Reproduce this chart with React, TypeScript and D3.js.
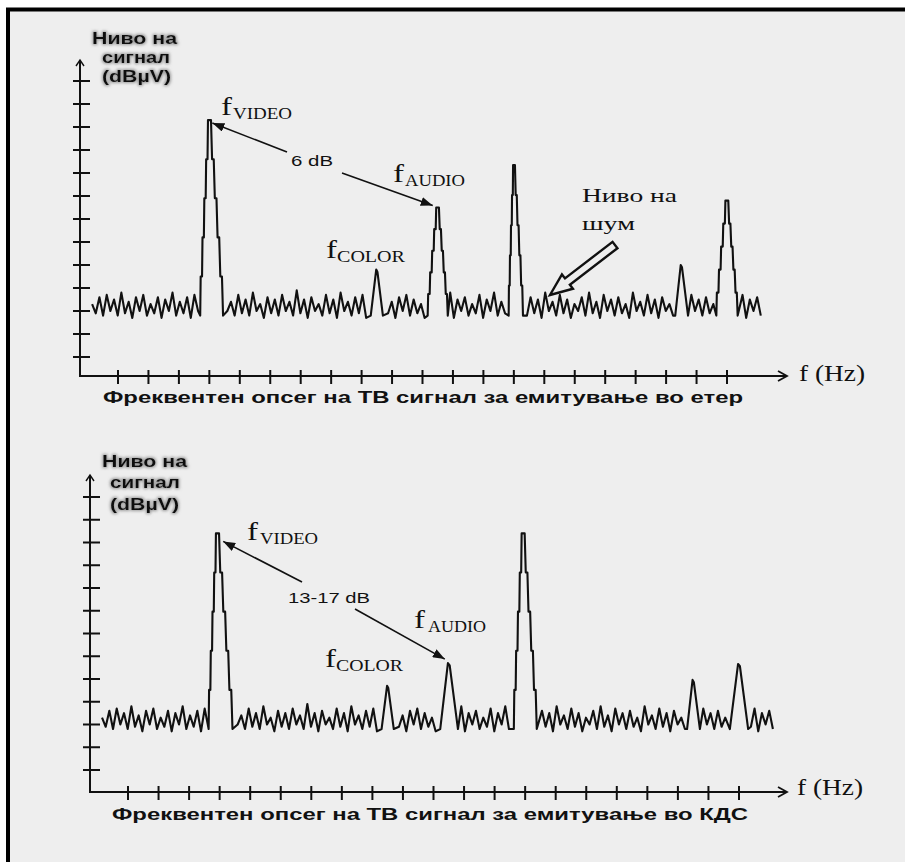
import * as d3 from "d3";

// shared noise floor, sampled every NOISE_STEP tick units
const NOISE_START = -0.85;
const NOISE_STEP = 0.12;
const NOISE = [
  2.3, 1.9, 2.6, 1.8, 2.7, 2.0, 2.5, 1.8, 2.8, 1.9,
  2.4, 1.7, 2.6, 2.0, 2.7, 1.8, 2.3, 1.9, 2.6, 1.7,
  2.5, 2.0, 2.8, 1.8, 2.4, 1.9, 2.6, 1.7, 2.7, 2.0,
  2.3, 1.8, 2.9, 1.9, 2.5, 1.7, 2.6, 2.0, 2.4, 1.8,
  2.7, 1.9, 2.5, 1.8, 2.8, 2.0, 2.3, 1.7, 2.6, 1.9,
  2.5, 1.8, 2.7, 2.0, 2.4, 1.8, 2.9, 1.9, 2.5, 1.7,
  2.6, 2.0, 2.3, 1.8, 2.7, 1.9, 2.5, 1.7, 2.8, 2.0,
  2.4, 1.8, 2.6, 1.9, 2.7, 1.7, 2.5, 2.0, 2.3, 1.8,
  2.8, 1.9, 2.4, 1.7, 2.6, 2.0, 2.7, 1.8, 2.5, 1.9,
  2.3, 1.7, 2.7, 2.0, 2.6, 1.8, 2.4, 1.9, 2.8, 1.7,
  2.5, 2.0, 2.6, 1.8, 2.3, 1.9, 2.7, 1.7, 2.5, 2.0,
  2.8, 1.8, 2.4, 1.9, 2.6, 1.7, 2.7, 2.0, 2.3, 1.8,
  2.6, 1.9, 2.5, 1.7, 2.8, 2.0, 2.4, 1.8, 2.7, 1.9,
  2.5, 1.7, 2.3, 2.0, 2.6, 1.8, 2.8, 1.9, 2.4, 1.7,
  2.7, 2.0, 2.5, 1.8, 2.6, 1.9, 2.3, 1.7, 2.8, 2.0,
  2.4, 1.8, 2.7, 1.9, 2.5, 1.7, 2.6, 2.0, 2.3, 1.8,
  2.8, 1.9, 2.4, 1.7, 2.7, 2.0, 2.5, 1.8, 2.6, 1.9,
  2.3, 1.7, 2.6, 2.0, 2.8, 1.8, 2.4, 1.9, 2.7, 1.7,
  2.5, 2.0, 2.6, 1.8,
];
const PEAK_BASE = 1.8;

// over-the-air spectrum: video, color, audio, next video, ..., ...
const AIR_FREQ = [3, 8.5, 10.5, 13, 18.5, 20];
const AIR_LEVEL = [10.3, 3.8, 6.5, 8.35, 4.0, 6.8];
const AIR_LEFT = [0.3, 0.2, 0.33, 0.17, 0.2, 0.35];
const AIR_RIGHT = [0.45, 0.2, 0.33, 0.3, 0.22, 0.35];

// cable (КДС) spectrum
const CATV_FREQ = [2.92, 8.5, 10.5, 12.93, 18.5, 20];
const CATV_LEVEL = [10.4, 3.7, 4.7, 10.4, 3.96, 4.66];
const CATV_LEFT = [0.28, 0.2, 0.28, 0.3, 0.2, 0.3];
const CATV_RIGHT = [0.5, 0.2, 0.3, 0.45, 0.22, 0.3];

const X_TICKS = d3.range(0, 21);
const Y_TICKS = d3.range(0, 13);

const Y_LABEL = ["Ниво на", "сигнал", "(dBµV)"];
const AIR_CAPTION = "Фреквентен опсег на ТВ сигнал за емитување во етер";
const CATV_CAPTION = "Фреквентен опсег на ТВ сигнал за емитување во КДС";
const AIR_DIFF = "6 dB";
const CATV_DIFF = "13-17 dB";

const SANS = "'Liberation Sans', Arial, sans-serif";
const SERIF = "'Liberation Serif', 'Times New Roman', serif";

type Pt = [number, number];

// stair-stepped triangle for tall carriers, plain triangle for small ones
const peakPoints = (c: number, h: number, l: number, r: number): Pt[] => {
  if (h - PEAK_BASE < 3) {
    return [
      [c - l, PEAK_BASE],
      [c - l * 0.1, h],
      [c + r * 0.1, h - 0.1],
      [c + r, PEAK_BASE],
    ];
  }
  const n = 5;
  const yk = (k: number) => PEAK_BASE + ((h - PEAK_BASE) * k) / n;
  const pts: Pt[] = [[c - l, PEAK_BASE]];
  for (let k = 1; k <= n; k++) {
    pts.push([c - l + (l * (k - 0.75)) / n, yk(k)]);
    pts.push([c - l + (l * k) / n, yk(k)]);
  }
  for (let j = 1; j <= n; j++) {
    pts.push([c + (r * (j - 1 + 0.6)) / n, yk(n - j + 1)]);
    pts.push([c + (r * j) / n, yk(n - j)]);
  }
  return pts;
};

const T = ({ x, y, len, size, family, weight, children, filter }: any) => (
  <text
    x={x}
    y={y}
    fontSize={size}
    fontFamily={family}
    fontWeight={weight || "normal"}
    textLength={len}
    lengthAdjust="spacingAndGlyphs"
    fill="#111"
    filter={filter}
  >
    {children}
  </text>
);

const SubLabel = ({ x, y, sub, subX, subLen }: any) => (
  <g>
    <T x={x} y={y} len={11} size={26} family={SERIF}>
      f
    </T>
    <T x={subX} y={y + 4} len={subLen} size={16} family={SERIF}>
      {sub}
    </T>
  </g>
);

type Layout = {
  x0: number;
  xEnd: number;
  yAxis: number;
  yTop: number;
  xRange: [number, number];
  yRange: [number, number];
  yLabel: [number, number, number][];
  video: [number, number, number, number];
  audio: [number, number, number, number];
  color: [number, number, number, number];
  diff: [number, number, number];
  tail1: Pt;
  tipOff1: Pt;
  tail2: Pt;
  tipOff2: Pt;
  hz: [number, number];
  caption: [number, number, number];
};

const AIR_LAYOUT: Layout = {
  x0: 80,
  xEnd: 787,
  yAxis: 376,
  yTop: 60,
  xRange: [118, 727],
  yRange: [357, 81],
  yLabel: [
    [92, 44, 85],
    [102, 63, 68],
    [102, 82, 69],
  ],
  video: [221, 115, 233, 59],
  audio: [393, 182, 405, 60],
  color: [326, 258, 337, 68],
  diff: [291, 166, 42],
  tail1: [287, 152],
  tipOff1: [3, 3],
  tail2: [342, 173],
  tipOff2: [-5, -2],
  hz: [799, 381],
  caption: [103, 403, 640],
};

const CATV_LAYOUT: Layout = {
  x0: 90,
  xEnd: 787,
  yAxis: 792,
  yTop: 475,
  xRange: [128, 739],
  yRange: [770, 497],
  yLabel: [
    [102, 467, 85],
    [110, 488, 70],
    [110, 510, 69],
  ],
  video: [247, 540, 260, 58],
  audio: [414, 628, 428, 58],
  color: [325, 667, 336, 67],
  diff: [288, 603, 82],
  tail1: [302, 582],
  tipOff1: [6, 8],
  tail2: [355, 609],
  tipOff2: [-4, -4],
  hz: [797, 795],
  caption: [112, 820, 636],
};

const Panel = ({
  lay,
  freq,
  level,
  left,
  right,
  diff,
  caption,
}: {
  lay: Layout;
  freq: number[];
  level: number[];
  left: number[];
  right: number[];
  diff: string;
  caption: string;
}) => {
  const xs = d3.scaleLinear().domain([0, 20]).range(lay.xRange);
  const ys = d3.scaleLinear().domain([0, 12]).range(lay.yRange);

  // build the trace: noise floor with the peaks spliced in
  const pts: Pt[] = [];
  const done = new Set<number>();
  NOISE.forEach((v, i) => {
    const x = NOISE_START + i * NOISE_STEP;
    const p = freq.findIndex(
      (c, k) => x >= c - left[k] - 0.06 && x <= c + right[k] + 0.06
    );
    if (p >= 0) {
      if (!done.has(p)) {
        done.add(p);
        pts.push(...peakPoints(freq[p], level[p], left[p], right[p]));
      }
      return;
    }
    pts.push([x, v]);
  });
  const line = d3
    .line<Pt>()
    .x((d) => xs(d[0]))
    .y((d) => ys(d[1]));

  const tip1: Pt = [xs(freq[0]) + lay.tipOff1[0], ys(level[0]) + lay.tipOff1[1]];
  const tip2: Pt = [xs(freq[2]) + lay.tipOff2[0], ys(level[2]) + lay.tipOff2[1]];

  return (
    <g>
      {/* axes */}
      <path
        d={`M${lay.x0},${lay.yTop} V${lay.yAxis} H${lay.xEnd}`}
        fill="none"
        stroke="#111"
        strokeWidth={2}
      />
      <path
        d={`M${lay.x0 - 4},${lay.yTop + 6} L${lay.x0},${lay.yTop} L${lay.x0 + 4},${lay.yTop + 6}`}
        fill="none"
        stroke="#111"
        strokeWidth={1.4}
      />
      <path
        d={`M${lay.xEnd - 9},${lay.yAxis - 5} L${lay.xEnd},${lay.yAxis} L${lay.xEnd - 9},${lay.yAxis + 5}`}
        fill="none"
        stroke="#111"
        strokeWidth={1.8}
      />
      {Y_TICKS.map((t) => (
        <line
          key={"y" + t}
          x1={lay.x0 - 7}
          x2={lay.x0 + 10}
          y1={ys(t)}
          y2={ys(t)}
          stroke="#111"
          strokeWidth={2}
        />
      ))}
      {X_TICKS.map((t) => (
        <line
          key={"x" + t}
          x1={xs(t)}
          x2={xs(t)}
          y1={lay.yAxis - 6}
          y2={lay.yAxis + 8}
          stroke="#111"
          strokeWidth={2}
        />
      ))}

      {/* spectrum trace */}
      <path
        d={line(pts) || ""}
        fill="none"
        stroke="#111"
        strokeWidth={2.1}
        strokeLinejoin="round"
      />

      {/* labels */}
      {Y_LABEL.map((s, i) => (
        <T
          key={s}
          x={lay.yLabel[i][0]}
          y={lay.yLabel[i][1]}
          len={lay.yLabel[i][2]}
          size={17}
          family={SANS}
          weight="bold"
          filter="url(#halo)"
        >
          {s}
        </T>
      ))}
      <SubLabel x={lay.video[0]} y={lay.video[1]} subX={lay.video[2]} subLen={lay.video[3]} sub="VIDEO" />
      <SubLabel x={lay.audio[0]} y={lay.audio[1]} subX={lay.audio[2]} subLen={lay.audio[3]} sub="AUDIO" />
      <SubLabel x={lay.color[0]} y={lay.color[1]} subX={lay.color[2]} subLen={lay.color[3]} sub="COLOR" />
      <T x={lay.diff[0]} y={lay.diff[1]} len={lay.diff[2]} size={15} family={SANS}>
        {diff}
      </T>
      <line
        x1={lay.tail1[0]}
        y1={lay.tail1[1]}
        x2={tip1[0]}
        y2={tip1[1]}
        stroke="#111"
        strokeWidth={1.6}
        markerEnd="url(#ah)"
      />
      <line
        x1={lay.tail2[0]}
        y1={lay.tail2[1]}
        x2={tip2[0]}
        y2={tip2[1]}
        stroke="#111"
        strokeWidth={1.6}
        markerEnd="url(#ah)"
      />
      <T x={lay.hz[0]} y={lay.hz[1]} len={66} size={23} family={SERIF}>
        f (Hz)
      </T>
      <T
        x={lay.caption[0]}
        y={lay.caption[1]}
        len={lay.caption[2]}
        size={16.5}
        family={SANS}
        weight="bold"
      >
        {caption}
      </T>
    </g>
  );
};

// hollow "noise level" pointer, from tail to tip
const NoiseArrow = ({ tail, tip }: { tail: Pt; tip: Pt }) => {
  const ang = (Math.atan2(tail[1] - tip[1], tail[0] - tip[0]) * 180) / Math.PI;
  const len = Math.hypot(tail[0] - tip[0], tail[1] - tip[1]);
  return (
    <path
      transform={`translate(${tip[0]},${tip[1]}) rotate(${ang})`}
      d={`M0,0 L22,9 L22,4 L${len},4 L${len},-4 L22,-4 L22,-9 Z`}
      fill="#eeeeee"
      stroke="#111"
      strokeWidth={2.4}
      strokeLinejoin="miter"
    />
  );
};

export default function App() {
  return (
    <svg
      width={905}
      height={862}
      style={{ position: "absolute", left: 0, top: 0 }}
    >
      <defs>
        <marker
          id="ah"
          viewBox="0 0 12 9"
          refX={12}
          refY={4.5}
          markerWidth={12}
          markerHeight={9}
          markerUnits="userSpaceOnUse"
          orient="auto"
        >
          <path d="M0,0 L12,4.5 L0,9 Z" fill="#111" />
        </marker>
        <filter id="halo" x="-10%" y="-40%" width="120%" height="180%">
          <feMorphology operator="dilate" radius={1} in="SourceAlpha" result="d" />
          <feGaussianBlur in="d" stdDeviation={1.6} result="b" />
          <feFlood floodColor="#777" floodOpacity={0.7} />
          <feComposite in2="b" operator="in" result="s" />
          <feMerge>
            <feMergeNode in="s" />
            <feMergeNode in="SourceGraphic" />
          </feMerge>
        </filter>
      </defs>
      <rect x={0} y={0} width={905} height={862} fill="#ffffff" />
      <rect x={6} y={8} width={899} height={854} fill="#eeeeee" />
      <path d="M8,862 V9.5 H905" fill="none" stroke="#000" strokeWidth={4} />

      <Panel
        lay={AIR_LAYOUT}
        freq={AIR_FREQ}
        level={AIR_LEVEL}
        left={AIR_LEFT}
        right={AIR_RIGHT}
        diff={AIR_DIFF}
        caption={AIR_CAPTION}
      />
      <T x={582} y={202} len={95} size={19} family={SERIF}>
        Ниво на
      </T>
      <T x={582} y={230} len={53} size={19} family={SERIF}>
        шум
      </T>
      <NoiseArrow tail={[615, 245]} tip={[550, 295]} />

      <Panel
        lay={CATV_LAYOUT}
        freq={CATV_FREQ}
        level={CATV_LEVEL}
        left={CATV_LEFT}
        right={CATV_RIGHT}
        diff={CATV_DIFF}
        caption={CATV_CAPTION}
      />
    </svg>
  );
}
